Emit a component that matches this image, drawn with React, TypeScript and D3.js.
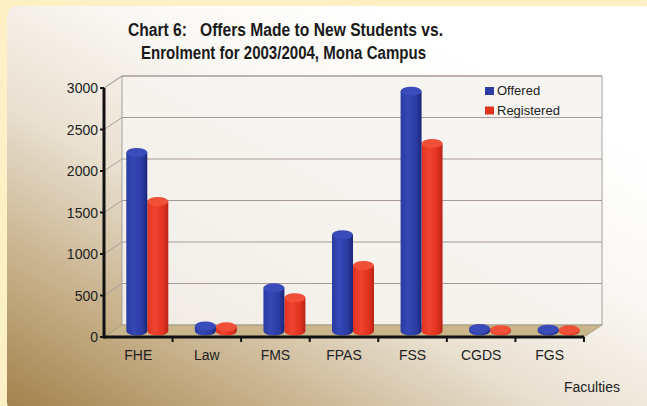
import * as d3 from 'd3';

const faculties = ['FHE', 'Law', 'FMS', 'FPAS', 'FSS', 'CGDS', 'FGS'];
const seriesNames = ['Offered', 'Registered'];
const offered = [2150, 60, 520, 1160, 2890, 30, 22];
const registered = [1560, 50, 400, 790, 2260, 15, 14];
const yTicks = [0, 500, 1000, 1500, 2000, 2500, 3000];

const W = 647;
const H = 406;
const FONT = '"Liberation Sans", Arial, sans-serif';

// 3d depth offset of the back wall
const DX = 18;
const DY = -12;

const colors: Record<string, { dark: string; mid: string; light: string; top: string }> = {
  Offered: { dark: '#1a2678', mid: '#2b3ba3', light: '#3447b4', top: '#3a4cba' },
  Registered: { dark: '#b82418', mid: '#e2321f', light: '#ee4430', top: '#f05038' },
};

export default function App() {
  const x = d3.scaleBand().domain(faculties).range([104, 584]);
  const xInner = d3.scaleBand().domain(seriesNames).range([-21, 21]);
  const y = d3.scaleLinear().domain([0, 3000]).range([337, 88]);

  const left = 104;
  const right = 584;
  const base = y(0);
  const top = y(3000);
  const rx = 10.5;
  const ry = 4.5;

  const bars: { key: string; s: string; cx: number; v: number }[] = [];
  faculties.forEach((f, i) => {
    ['Registered', 'Offered'].forEach((s) => {
      const v = s === 'Offered' ? offered[i] : registered[i];
      const cx = (x(f) as number) + x.bandwidth() / 2 + DX / 2 + (xInner(s) as number) + xInner.bandwidth() / 2;
      bars.push({ key: f + s, s, cx, v });
    });
  });

  return (
    <div style={{ position: 'absolute', left: 0, top: 0 }}>
      <svg width={W} height={H} style={{ display: 'block' }}>
        <defs>
          <linearGradient id="bg" x1="0" y1="1" x2="0.75" y2="0.15">
            <stop offset="0" stopColor="#a2814a" />
            <stop offset="0.25" stopColor="#c7b08a" />
            <stop offset="0.5" stopColor="#e9e0d0" />
            <stop offset="0.75" stopColor="#faf8f4" />
            <stop offset="1" stopColor="#ffffff" />
          </linearGradient>
          {seriesNames.map((s) => (
            <linearGradient key={s} id={'cyl' + s} x1="0" y1="0" x2="1" y2="0">
              <stop offset="0" stopColor={colors[s].mid} />
              <stop offset="0.35" stopColor={colors[s].light} />
              <stop offset="0.75" stopColor={colors[s].mid} />
              <stop offset="1" stopColor={colors[s].dark} />
            </linearGradient>
          ))}
        </defs>
        <rect x={0} y={0} width={W} height={H} fill="#fdf0c4" />
        <rect x={7} y={6} width={W} height={H} rx={10} fill="url(#bg)" />

        {/* title */}
        <text
          x={128}
          y={36}
          fontFamily={FONT}
          fontWeight="bold"
          fontSize={17.5}
          fill="#1a1a1a"
          xmlSpace="preserve"
          textLength={315}
          lengthAdjust="spacingAndGlyphs"
        >
          {'Chart 6:   Offers Made to New Students vs.'}
        </text>
        <text
          x={141}
          y={59}
          fontFamily={FONT}
          fontWeight="bold"
          fontSize={17.5}
          fill="#1a1a1a"
          textLength={285}
          lengthAdjust="spacingAndGlyphs"
        >
          Enrolment for 2003/2004, Mona Campus
        </text>

        {/* back wall */}
        <rect x={left + DX} y={top + DY} width={right - left} height={base - top} fill="#f6f4f0" fillOpacity={0.88} stroke="#a4a0a0" strokeWidth={1} />
        {/* gridlines on back wall + left wall */}
        {yTicks.slice(1).map((t) => (
          <g key={t}>
            <line x1={left + DX} x2={right + DX} y1={y(t) + DY} y2={y(t) + DY} stroke="#a89898" strokeWidth={1} />
            <line x1={left} x2={left + DX} y1={y(t)} y2={y(t) + DY} stroke="#a8a0a0" strokeWidth={1} />
          </g>
        ))}
        <line x1={left} x2={left + DX} y1={top} y2={top + DY} stroke="#a8a0a0" />
        {/* floor */}
        <path
          d={`M${left},${base}L${right},${base}L${right + DX},${base + DY}L${left + DX},${base + DY}Z`}
          fill="#c9b68a"
          stroke="#a09880"
          strokeWidth={0.8}
        />

        {/* bars */}
        {bars.map((b) => {
          const b0 = base + DY / 2;
          const t0 = y(b.v) + DY / 2;
          const xl = b.cx - rx;
          const xr = b.cx + rx;
          return (
            <g key={b.key}>
              <path
                d={`M${xl},${t0}L${xl},${b0}A${rx},${ry} 0 0 0 ${xr},${b0}L${xr},${t0}Z`}
                fill={`url(#cyl${b.s})`}
              />
              <ellipse cx={b.cx} cy={t0} rx={rx} ry={ry} fill={colors[b.s].top} />
            </g>
          );
        })}

        {/* y axis */}
        <line x1={left} x2={left} y1={top} y2={base + 1.5} stroke="#111" strokeWidth={3} />
        {yTicks.map((t) => (
          <g key={t}>
            <line x1={left - 4} x2={left} y1={y(t)} y2={y(t)} stroke="#111" strokeWidth={2} />
            <text x={left - 6} y={y(t) + 5} textAnchor="end" fontFamily={FONT} fontSize={14} fill="#222">
              {t}
            </text>
          </g>
        ))}
        {/* x axis */}
        <line x1={left} x2={right} y1={base} y2={base} stroke="#111" strokeWidth={3} />
        {faculties.map((f) => (
          <g key={f}>
            <line x1={(x(f) as number) + x.bandwidth()} x2={(x(f) as number) + x.bandwidth()} y1={base} y2={base + 5} stroke="#111" strokeWidth={2} />
            <text x={(x(f) as number) + x.bandwidth() / 2} y={360} textAnchor="middle" fontFamily={FONT} fontSize={14} fill="#222">
              {f}
            </text>
          </g>
        ))}
        <text x={620} y={392} textAnchor="end" fontFamily={FONT} fontSize={14} fill="#222">
          Faculties
        </text>

        {/* legend */}
        {seriesNames.map((s, i) => (
          <g key={s} transform={`translate(485, ${87 + i * 19.5})`}>
            <rect x={0} y={0} width={9} height={8} fill={colors[s].mid} />
            <text x={12} y={8} fontFamily={FONT} fontSize={13} fill="#222">
              {s}
            </text>
          </g>
        ))}
      </svg>
    </div>
  );
}
